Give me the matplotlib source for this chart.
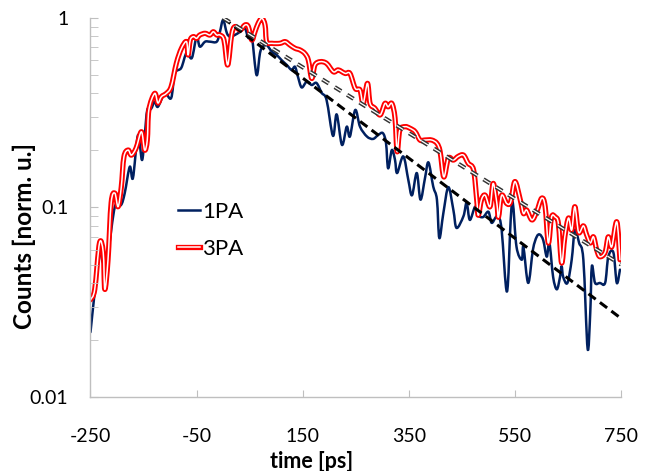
import numpy as np
import matplotlib
matplotlib.use('Agg')
import matplotlib.pyplot as plt
import matplotlib.patheffects as pe
from matplotlib.path import Path
from matplotlib.patches import PathPatch
from matplotlib.lines import Line2D
from matplotlib.ticker import LogLocator, NullFormatter, FixedLocator

plt.rcParams['font.family'] = ['Lato', 'DejaVu Sans']
plt.rcParams['lines.scale_dashes'] = False
plt.rcParams['axes.unicode_minus'] = False

# 1PA trace (time in ps, normalised counts)
t_1pa = [-250, -241.5, -233, -226, -217, -204, -192.5, -185.5, -176, -170, -160.5, -153, -148, -143,
         -136, -129, -123, -110, -98, -91, -79, -69, -59, -50, -44, -34, -25, -12, -6, 0, 7, 13,
         22, 32, 41, 47.5, 54, 63, 69.5, 75, 82, 92, 101, 110, 120, 129, 135.5, 141, 148, 157.5,
         167, 176, 186, 195, 207, 214, 224, 233, 239, 249, 258, 271, 282.5, 292, 301, 307, 311,
         318, 324, 328, 339.6, 349, 356, 365, 372, 380.5, 387, 396, 403, 407.5, 415, 424.5, 434,
         440, 453, 459, 465, 475, 481, 490, 500, 506, 514, 519, 525, 535, 542, 546, 553, 563, 566,
         575, 584, 591, 597, 603.5, 610, 615, 622, 629, 635, 638, 641, 649, 657, 663, 671, 679,
         687, 692, 695, 701, 710, 720, 726, 735.5, 742, 748]
c_1pa = [0.022, 0.037, 0.058, 0.051, 0.058, 0.101, 0.103, 0.119, 0.164, 0.143, 0.241, 0.178, 0.237, 0.327,
         0.331, 0.362, 0.340, 0.400, 0.378, 0.510, 0.545, 0.654, 0.615, 0.797, 0.706, 0.750, 0.750, 0.750, 0.846, 0.976, 0.833, 0.797,
         0.813, 0.846, 0.882, 0.784, 0.797, 0.500, 0.654, 0.706, 0.720, 0.664, 0.638, 0.600, 0.565, 0.532, 0.553, 0.490, 0.430, 0.461,
         0.443, 0.454, 0.402, 0.369, 0.239, 0.310, 0.214, 0.267, 0.237, 0.327, 0.267, 0.237, 0.230, 0.241, 0.247, 0.219, 0.161,
         0.201, 0.178, 0.152, 0.186, 0.140, 0.116, 0.152, 0.110, 0.143, 0.173, 0.129, 0.110, 0.069, 0.093, 0.128, 0.097,
         0.078, 0.090, 0.106, 0.086, 0.101, 0.091, 0.089, 0.095, 0.083, 0.089, 0.090, 0.076, 0.036, 0.086, 0.106, 0.062, 0.053, 0.062,
         0.040, 0.060, 0.070, 0.072, 0.067, 0.055, 0.065, 0.043, 0.037, 0.043, 0.049, 0.043, 0.040, 0.053, 0.076, 0.065, 0.053,
         0.018, 0.028, 0.049, 0.040, 0.040, 0.040, 0.055, 0.058, 0.040, 0.047]

# 3PA trace
t_3pa = [-250, -242, -233, -226, -223, -217, -211, -204, -198, -192, -187, -179, -173, -164, -154, -148,
         -143, -140, -129, -123, -116.5, -107, -98, -88, -78.5, -69, -66, -62, -56, -50, -44, -34, -25,
         -18.5, -12, -6, 1.6, 8.6, 16, 22, 32, 41, 47.5, 54, 60, 66, 73, 79, 82, 92, 107, 117, 126,
         135.5, 145, 154, 160.6, 167, 173, 183, 195, 208, 217, 230, 239, 249, 258, 264, 272, 277,
         286, 296, 305, 311, 318, 324, 328, 333, 343, 352, 362, 371, 380.5, 393, 403, 409, 416,
         424.5, 434, 443, 453, 462, 472, 478, 481, 487, 494, 503, 509, 516, 519, 525, 534.5, 542,
         550, 560, 566, 572, 582, 591, 600.5, 607, 613, 619, 626, 632, 638, 644, 651, 657, 663,
         670, 679, 685, 692, 698, 704, 710, 720, 726, 732.5, 742, 748]
c_3pa = [0.0326, 0.037, 0.065, 0.058, 0.037, 0.053, 0.106, 0.119, 0.101, 0.128, 0.185, 0.201, 0.189, 0.206, 0.251, 0.201,
         0.227, 0.327, 0.400, 0.356, 0.384, 0.400, 0.434, 0.579, 0.692, 0.750, 0.638, 0.765, 0.797, 0.781, 0.813, 0.830, 0.813,
         0.846, 0.813, 0.813, 0.765, 0.565, 0.813, 0.900, 0.864, 0.918, 0.900, 0.765, 0.846, 0.937, 0.996, 0.918, 0.750, 0.735, 0.735, 0.750, 0.720,
         0.692, 0.678, 0.650, 0.600, 0.480, 0.565, 0.588, 0.576, 0.520, 0.532, 0.510, 0.510, 0.425, 0.417, 0.354, 0.452, 0.354,
         0.334, 0.308, 0.354, 0.340, 0.354, 0.296, 0.197, 0.256, 0.267, 0.262, 0.251, 0.227, 0.227, 0.227, 0.218, 0.197, 0.145,
         0.182, 0.178, 0.186, 0.189, 0.171, 0.158, 0.110, 0.091, 0.110, 0.116, 0.101, 0.134, 0.105, 0.089, 0.116, 0.105, 0.107,
         0.137, 0.110, 0.093, 0.097, 0.086, 0.095, 0.112, 0.101, 0.065, 0.089, 0.089, 0.082, 0.051, 0.070, 0.088, 0.076, 0.101,
         0.074, 0.080, 0.072, 0.065, 0.070, 0.060, 0.055, 0.058, 0.070, 0.062, 0.084, 0.053]

# exponential fits (straight on log axis)
t_fit = [0, 750]
c_fit1 = [1.0, 0.026]
c_fit2 = [1.0, 0.050]


def smooth_path(x, y):
    # smoothed line like the spreadsheet's: bezier segments through every point (log y)
    X = np.asarray(x, float)
    Y = np.log10(np.asarray(y, float))
    n = len(X)
    verts = [(X[0], Y[0])]
    codes = [Path.MOVETO]
    for i in range(n - 1):
        a = max(i - 1, 0)
        b = min(i + 2, n - 1)
        verts.append((X[i] + (X[i + 1] - X[a]) / 6, Y[i] + (Y[i + 1] - Y[a]) / 6))
        verts.append((X[i + 1] - (X[b] - X[i]) / 6, Y[i + 1] - (Y[b] - Y[i]) / 6))
        verts.append((X[i + 1], Y[i + 1]))
        codes += [Path.CURVE4] * 3
    V = np.array(verts)
    V[:, 1] = 10 ** V[:, 1]
    return Path(V, codes)


fig = plt.figure(figsize=(6.52, 4.71), dpi=100)
ax = fig.add_axes([0.1388, 0.1571, 0.8137, 0.8047])

navy = '#002060'
red_fx = [pe.Stroke(linewidth=3.8, foreground='#ff0000'), pe.Normal()]

ax.add_patch(PathPatch(smooth_path(t_1pa, c_1pa), fill=False, edgecolor=navy, lw=1.8,
                       joinstyle='round', capstyle='round'))
ax.add_patch(PathPatch(smooth_path(t_3pa, c_3pa), fill=False, edgecolor='white', lw=1.1,
                       joinstyle='round', capstyle='round', path_effects=red_fx))
ax.plot(t_fit, c_fit1, color='black', lw=2.2, dashes=(6.5, 3.8))
ax.plot(t_fit, c_fit2, color='white', lw=0.9, dashes=(5.5, 5),
        path_effects=[pe.Stroke(linewidth=3.0, foreground='#333333'), pe.Normal()])

ax.set_yscale('log')
ax.set_xlim(-250, 750)
ax.set_ylim(0.01, 1)
ax.xaxis.set_major_locator(FixedLocator(range(-250, 751, 200)))
ax.yaxis.set_major_locator(FixedLocator([0.01, 0.1, 1]))
ax.set_yticklabels(['0.01', '0.1', '1'])
ax.yaxis.set_minor_locator(LogLocator(base=10, subs=np.arange(2, 10)))
ax.yaxis.set_minor_formatter(NullFormatter())

for s in ['top', 'right']:
    ax.spines[s].set_visible(False)
for s in ['left', 'bottom']:
    ax.spines[s].set_color('#bfbfbf')
    ax.spines[s].set_linewidth(1.0)

ax.tick_params(axis='x', which='major', direction='in', length=5, color='#bfbfbf',
               labelsize=14, pad=22)
ax.tick_params(axis='y', which='both', direction='in', length=6, color='#bfbfbf',
               labelsize=14, pad=16)

fig.text(312 / 652, 1 - 451 / 471, 'time [ps]', fontsize=15.5, fontweight='bold',
         ha='center', va='top')
fig.text(24 / 652, 1 - 236 / 471, 'Counts [norm. u.]', fontsize=17.5, fontweight='bold',
         ha='center', va='center', rotation=90)

handles = [Line2D([], [], color=navy, lw=1.8),
           Line2D([], [], color='white', lw=1.1, path_effects=red_fx)]
ax.legend(handles, ['1PA', '3PA'], loc='center left', bbox_to_anchor=(0.165, 0.44),
          frameon=False, fontsize=16, handlelength=1.0, handletextpad=0.1,
          labelspacing=0.75, borderpad=0, borderaxespad=0)

plt.savefig('out.png', dpi=100)
